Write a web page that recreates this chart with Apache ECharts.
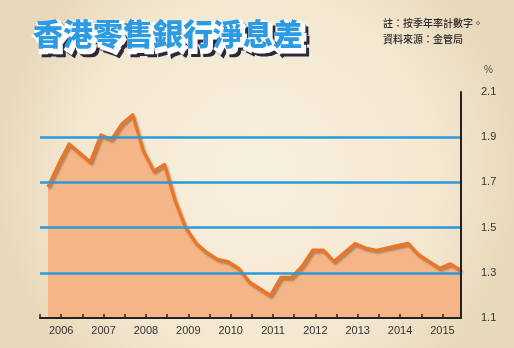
<!DOCTYPE html>
<html>
<head>
<meta charset="utf-8">
<script src="https://cdn.jsdelivr.net/npm/echarts@6/dist/echarts.min.js"></script>
<style>
html,body{margin:0;padding:0;background:#F3E8D3;}
#c{width:514px;height:348px;}
</style>
</head>
<body>
<div id="c"></div>
<script>
// Tick labels (years) and quarterly net interest margin (%), 2006Q1 - 2015Q4
var years = ['2006','2007','2008','2009','2010','2011','2012','2013','2014','2015'];
var nim = [1.68,1.78,1.87,1.83,1.79,1.91,1.89,1.96,2.00,1.84,
           1.75,1.78,1.62,1.50,1.43,1.39,1.36,1.35,1.32,1.26,
           1.23,1.20,1.28,1.28,1.33,1.40,1.40,1.35,1.39,1.43,
           1.41,1.40,1.41,1.42,1.43,1.38,1.35,1.32,1.34,1.31];
var gridValues = [1.3, 1.5, 1.7, 1.9];
var yTicks = { min: 1.1, max: 2.1, step: 0.2 };
var titleText = '香港零售銀行淨息差';
var noteLines = ['註：按季年率計數字。', '資料來源：金管局'];

var firstYear = +years[0];
var points = nim.map(function (v, i) { return [firstYear + (i + 0.75) / 4, v]; });
var lastX = firstYear + (nim.length - 1 + 0.75) / 4;

var chart = echarts.init(document.getElementById('c'), null, { renderer: 'canvas' });
var titleFont = '900 30px "Noto Sans CJK TC"';
var option = {
  backgroundColor: {
    type: 'radial', x: 0.5, y: 0.5, r: 0.75,
    colorStops: [{ offset: 0, color: '#F8F0DF' }, { offset: 0.7, color: '#F3E7D0' }, { offset: 1, color: '#E9D9BB' }]
  },
  animation: false,
  grid: { left: 40, right: 53, top: 92, bottom: 30 },
  xAxis: {
    type: 'value', min: firstYear, max: lastX, interval: 0.5, z: 10,
    axisLine: { show: true, lineStyle: { color: '#222', width: 2 } },
    axisTick: { show: true, inside: true, length: 4, lineStyle: { color: '#222', width: 1.5 } },
    splitLine: { show: false },
    axisLabel: {
      margin: 7, color: '#333', fontSize: 11, fontFamily: 'Liberation Sans',
      showMaxLabel: false,
      formatter: function (v) {
        var f = v - Math.floor(v);
        if (Math.abs(f - 0.5) < 0.01) { return years[Math.floor(v) - firstYear] || ''; }
        return '';
      }
    }
  },
  yAxis: {
    type: 'value', position: 'right', min: yTicks.min, max: yTicks.max, interval: yTicks.step, z: 10,
    axisLine: { show: true, lineStyle: { color: '#222', width: 2 } },
    axisTick: { show: false },
    splitLine: { show: false },
    axisLabel: {
      margin: 20, color: '#333', fontSize: 11, fontFamily: 'Liberation Sans',
      formatter: function (v) { return v.toFixed(1); }
    }
  },
  series: [
    {
      type: 'line', data: points, symbol: 'none', z: 1,
      lineStyle: { width: 0 },
      areaStyle: { color: '#F5B586', opacity: 1 }
    },
    {
      type: 'line', data: [], z: 2,
      markLine: {
        silent: true, symbol: 'none', label: { show: false },
        lineStyle: { color: '#2A9BD8', width: 2.5, type: 'solid' },
        data: gridValues.map(function (v) { return { yAxis: v }; })
      }
    },
    {
      type: 'line', data: points, symbol: 'none', z: 3,
      lineStyle: {
        color: '#EB7524', width: 3.2, join: 'round',
        shadowColor: 'rgba(90,60,40,0.45)', shadowBlur: 2, shadowOffsetX: 1.5, shadowOffsetY: 2
      }
    }
  ],
  graphic: [
    { type: 'text', left: 36, top: 22, z: 10,
      style: { text: titleText, font: titleFont, fill: '#2a2a3a', stroke: '#2a2a3a', lineWidth: 5 } },
    { type: 'text', left: 33, top: 19, z: 11,
      style: { text: titleText, font: titleFont, fill: '#ffffff', stroke: '#ffffff', lineWidth: 5 } },
    { type: 'text', left: 33, top: 19, z: 12,
      style: { text: titleText, font: titleFont, fill: '#2D9BE3' } },
    { type: 'text', left: 383, top: 18, z: 10,
      style: { text: noteLines[0], font: '500 10px "Noto Sans CJK TC"', fill: '#2a2a2a' } },
    { type: 'text', left: 383, top: 34, z: 10,
      style: { text: noteLines[1], font: '500 10px "Noto Sans CJK TC"', fill: '#2a2a2a' } },
    { type: 'text', left: 484, top: 65, z: 10,
      style: { text: '%', font: '10px "Liberation Sans"', fill: '#555' } }
  ]
};
chart.setOption(option);
</script>
</body>
</html>
